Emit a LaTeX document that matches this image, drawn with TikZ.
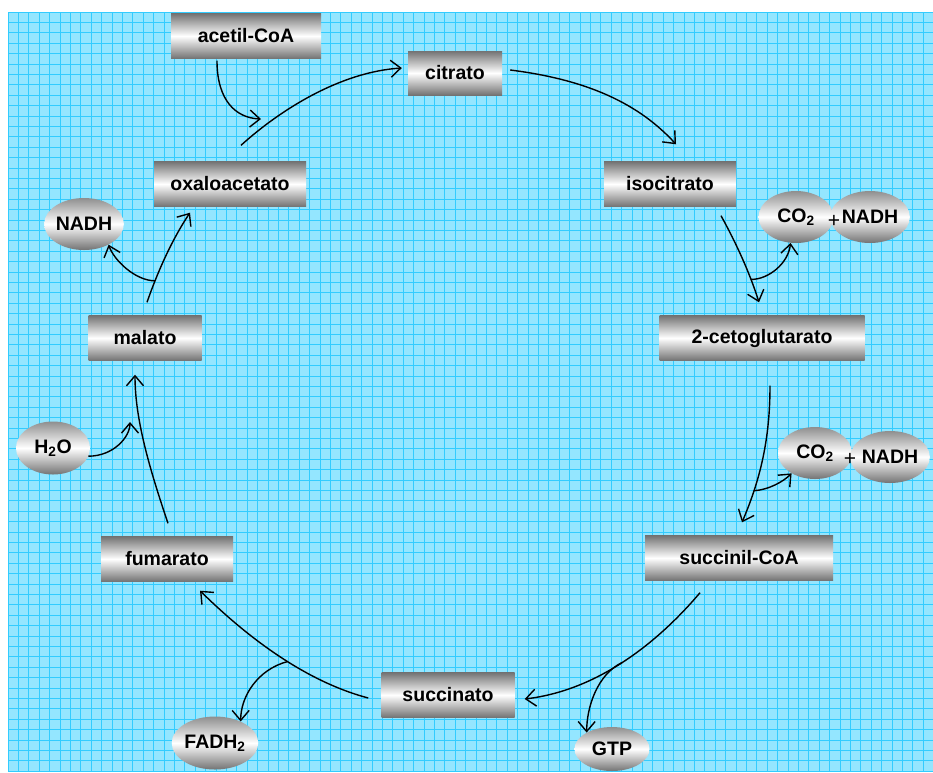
\documentclass[tikz,border=0pt]{standalone}
\usepackage{fontspec}
\setmainfont{Liberation Sans}
\usetikzlibrary{arrows.meta,shapes.geometric,calc}
\definecolor{sheet}{RGB}{148,230,255}
\definecolor{sheetline}{RGB}{50,204,255}
\definecolor{bargray}{RGB}{115,115,115}

\begin{document}
\begin{tikzpicture}[x=1pt,y=-1pt]
\tikzstyle{every node}=[font=\fontsize{19.5}{22}\selectfont\bfseries, inner sep=0pt];
\tikzstyle{met}=[shape=rectangle, minimum height=45pt, top color=bargray, bottom color=bargray, middle color=white];
\tikzstyle{cof}=[shape=ellipse, minimum width=74pt, minimum height=52pt, top color=bargray!80, bottom color=bargray, middle color=white];
\tikzstyle{flow}=[line width=1.4pt, -{Straight Barb[length=10pt,width=17pt]}];
\useasboundingbox (0,0) rectangle (933,772);
\fill[sheet] (8,12) rectangle (933,772);
\foreach \i in {0,...,88} \draw[sheetline, line width=0.9pt] ({8+10.4*\i},12) -- ({8+10.4*\i},772);
\foreach \j in {0,...,73} \draw[sheetline, line width=0.9pt] (8,{12+10.4*\j}) -- (933,{12+10.4*\j});
\path (246,36) node[met, minimum width=150pt] (acetil) {acetil-CoA};
\path (455,73) node[met, minimum width=94pt, minimum height=44pt] (citrato) {citrato};
\path (230,184) node[met, minimum width=152pt] (oxalo) {oxaloacetato};
\path (670,184) node[met, minimum width=132pt] (isocit) {isocitrato};
\path (762,338) node[met, minimum width=205pt] (ceto) {2-cetoglutarato};
\path (739,558) node[met, minimum width=188pt] (succoa) {succinil-CoA};
\path (448,695) node[met, minimum width=133pt] (succ) {succinato};
\path (167,559) node[met, minimum width=132pt] (fum) {fumarato};
\path (145,338) node[met, minimum width=113pt] (mal) {malato};
\path (796,217) node[cof, minimum width=75pt] (co2a) {CO\textsubscript{2}};
\path (870,217) node[cof, minimum width=72pt] (nadha) {NADH};
\path (834,221) node[font=\fontsize{21}{22}\selectfont] (plusa) {+};
\path (815,453) node[cof] (co2b) {CO\textsubscript{2}};
\path (890,457) node[cof] (nadhb) {NADH};
\path (850,459) node[font=\fontsize{21}{22}\selectfont] (plusb) {+};
\path (612,749) node[cof, minimum width=75pt, minimum height=44pt] (gtp) {GTP};
\path (215,743) node[cof, minimum height=53pt] (fadh) {FADH\textsubscript{2}};
\path (84,224) node[cof] (nadhc) {NADH};
\path (53,448) node[cof, minimum height=53pt] (water) {H\textsubscript{2}O};
\coordinate (inA) at (261,119);
\coordinate (hin) at (130,422);
\draw[flow] ($(acetil.south)+(-29,2)$) .. controls +(0,40) and +(-25,-1) .. (inA);
\draw[flow] ($(oxalo.north)+(11,-16)$) .. controls (280,110) and (340,72) .. ($(citrato.west)+(-6,-5)$);
\draw[flow] ($(citrato.east)+(8,-3)$) .. controls (590,80) and (640,105) .. ($(isocit.north)+(6,-17)$);
\draw[flow] ($(isocit.south)+(51,9)$) .. controls (740,250) and (752,280) .. ($(ceto.north)+(-3,-13)$) coordinate[pos=0.69] (b1);
\draw[flow] (b1) .. controls +(18,0) and +(-2,20) .. (co2a.258);
\draw[flow] ($(ceto.south)+(8,25)$) .. controls (770,440) and (760,480) .. ($(succoa.north)+(3,-13)$) coordinate[pos=0.75] (b2);
\draw[flow] (b2) .. controls +(15,-1) and +(-8,8) .. (co2b.221);
\draw[flow] ($(succoa.south)+(-39,12)$) .. controls (660,640) and (600,690) .. ($(succ.east)+(10,4)$) coordinate[pos=0.52] (b3);
\draw[flow] (b3) .. controls +(-25,12) and +(0,-25) .. (gtp.147);
\draw[flow] ($(succ.west)+(-13,3)$) .. controls (300,680) and (240,630) .. ($(fum.south)+(33,9)$) coordinate[pos=0.42] (b4);
\draw[flow] (b4) .. controls +(-30,8) and +(0,-25) .. (fadh.40);
\draw[flow] ($(fum.north)+(1,-13)$) .. controls (150,470) and (135,420) .. ($(mal.south)+(-10,14)$);
\draw[flow] (water.347) .. controls +(25,0) and +(0,15) .. (hin);
\draw[flow] ($(mal.north)+(2,-13)$) .. controls (160,265) and (175,235) .. ($(oxalo.south)+(-40,6)$) coordinate[pos=0.2] (b5);
\draw[flow] (b5) .. controls +(-20,0) and +(5,15) .. (nadhc.320);
\end{tikzpicture}
\end{document}
